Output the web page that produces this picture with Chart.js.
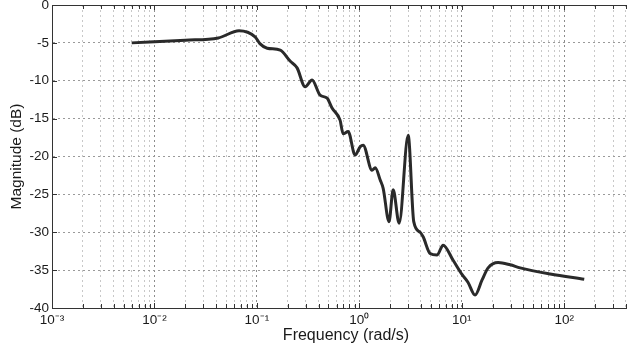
<!DOCTYPE html>
<html>
<head>
<meta charset="utf-8">
<script src="https://cdn.jsdelivr.net/npm/chart.js@4.4.1/dist/chart.umd.min.js"></script>
<style>
html, body { margin:0; padding:0; background:#fff; overflow:hidden; }
#wrap { width:650px; height:352px; position:relative; }
</style>
</head>
<body>
<div id="wrap"><canvas id="bode_canvas"></canvas></div>
<script>

// frequency response
var freq_rad = [0.006, 0.02, 0.042, 0.067, 0.096, 0.107, 0.126, 0.169, 0.211, 0.247,
                0.296, 0.346, 0.414, 0.485, 0.542, 0.649, 0.695, 0.778, 0.91, 1.02,
                1.09, 1.33, 1.43, 1.6, 1.71, 1.95, 2.14, 2.45, 3.0, 3.4,
                3.93, 4.2, 4.91, 5.75, 6.58, 8.24, 10.1, 11.5, 13.5, 15.8,
                18.1, 22.7, 29.7, 37.2, 73, 157];
var magnitude_db = [-5.0, -4.65, -4.35, -3.4, -4.2, -5.1, -5.7, -5.95, -7.4, -8.3,
                    -10.8, -9.9, -11.9, -12.3, -13.6, -15.2, -17.0, -16.7, -19.8, -18.7,
                    -18.5, -21.8, -21.5, -23.1, -24.2, -28.6, -24.4, -28.8, -17.2, -28.6,
                    -30.0, -30.6, -32.8, -33.0, -31.7, -33.7, -35.6, -36.6, -38.3, -36.3,
                    -34.7, -34.0, -34.3, -34.7, -35.5, -36.2];

var x_decades = [-3, -2, -1, 0, 1, 2];
var x_tick_labels = ['10\u207B\u00B3', '10\u207B\u00B2', '10\u207B\u00B9', '10\u2070', '10\u00B9', '10\u00B2'];
var y_min = -40, y_max = 0, y_step = 5;
var x_min = 0.001, x_max = 550;

var is_decade = function(v)
{
  var e = Math.log10(v);
  return Math.abs(e - Math.round(e)) < 1e-9;
};

var points = [];
for (var i = 0; i < freq_rad.length; i++)
{
  points.push({x: freq_rad[i], y: magnitude_db[i]});
}

// top frame line and the small inward tick marks
var frame_plugin = {
  id: 'frame_plugin',
  beforeDatasetsDraw: function(chart)
  {
    var ctx = chart.ctx, area = chart.chartArea;
    var xs = chart.scales.x, ys = chart.scales.y;
    ctx.save();
    ctx.strokeStyle = '#333';
    ctx.lineWidth = 1;
    ctx.beginPath();
    ctx.moveTo(area.left, area.top + 0.5);
    ctx.lineTo(area.right + 20, area.top + 0.5);
    xs.ticks.forEach(function(t)
    {
      var px = Math.round(xs.getPixelForValue(t.value)) + 0.5;
      var len = is_decade(t.value) ? 5 : 4;
      ctx.moveTo(px, area.bottom);
      ctx.lineTo(px, area.bottom - len);
      ctx.moveTo(px, area.top);
      ctx.lineTo(px, area.top + len);
    });
    ys.ticks.forEach(function(t)
    {
      var py = Math.round(ys.getPixelForValue(t.value)) + 0.5;
      ctx.moveTo(area.left, py);
      ctx.lineTo(area.left + 5, py);
    });
    ctx.stroke();
    ctx.restore();
  }
};

var tick_font = {family: 'Liberation Sans', size: 13.5};

new Chart(document.getElementById('bode_canvas').getContext('2d'), {
  type: 'line',
  data: {
    datasets: [{
      label: 'Magnitude',
      data: points,
      borderColor: '#2a2a2a',
      borderWidth: 3,
      pointRadius: 0,
      cubicInterpolationMode: 'monotone',
      fill: false
    }]
  },
  options: {
    responsive: true,
    maintainAspectRatio: false,
    animation: false,
    layout: { padding: {left: 0, top: 5, right: 10, bottom: 0} },
    plugins: { legend: {display: false}, tooltip: {enabled: false} },
    scales: {
      x: {
        type: 'logarithmic',
        min: x_min,
        max: x_max,
        afterBuildTicks: function(scale)
        {
          var t = [];
          for (var e = -3; e <= 2; e++)
          {
            for (var m = 1; m <= 9; m++)
            {
              var v = m * Math.pow(10, e);
              if (v >= x_min && v <= x_max) t.push({value: v});
            }
          }
          scale.ticks = t;
        },
        afterFit: function(scale)
        {
          scale.height = 44;
          scale.paddingLeft = 0;
          scale.paddingRight = 0;
        },
        ticks: {
          autoSkip: false,
          maxRotation: 0,
          padding: 4,
          color: '#1a1a1a',
          font: tick_font,
          callback: function(value)
          {
            if (!is_decade(value)) return '';
            var k = x_decades.indexOf(Math.round(Math.log10(value)));
            return k >= 0 ? x_tick_labels[k] : '';
          }
        },
        grid: {
          drawTicks: false,
          color: function(c) { return (c.tick && is_decade(c.tick.value)) ? '#8c8c8c' : '#c8c8c8'; },
          lineWidth: 1
        },
        border: { display: true, color: '#333', width: 1, dash: [2, 3] },
        title: {
          display: true,
          text: 'Frequency (rad/s)',
          color: '#1a1a1a',
          font: {family: 'Liberation Sans', size: 16},
          padding: {top: 0, bottom: 7}
        }
      },
      y: {
        min: y_min,
        max: y_max,
        afterFit: function(scale)
        {
          scale.width = 52;
          scale.paddingTop = 0;
          scale.paddingBottom = 0;
        },
        ticks: {
          stepSize: y_step,
          padding: 3,
          color: '#1a1a1a',
          font: tick_font,
          callback: function(value) { return String(value); }
        },
        grid: { drawTicks: false, color: '#9a9a9a', lineWidth: 1 },
        border: { display: true, color: '#333', width: 1, dash: [2, 3] },
        title: {
          display: true,
          text: 'Magnitude (dB)',
          color: '#1a1a1a',
          font: {family: 'Liberation Sans', size: 15.5},
          padding: {top: 7, bottom: 0}
        }
      }
    }
  },
  plugins: [frame_plugin]
});

</script>
</body>
</html>
